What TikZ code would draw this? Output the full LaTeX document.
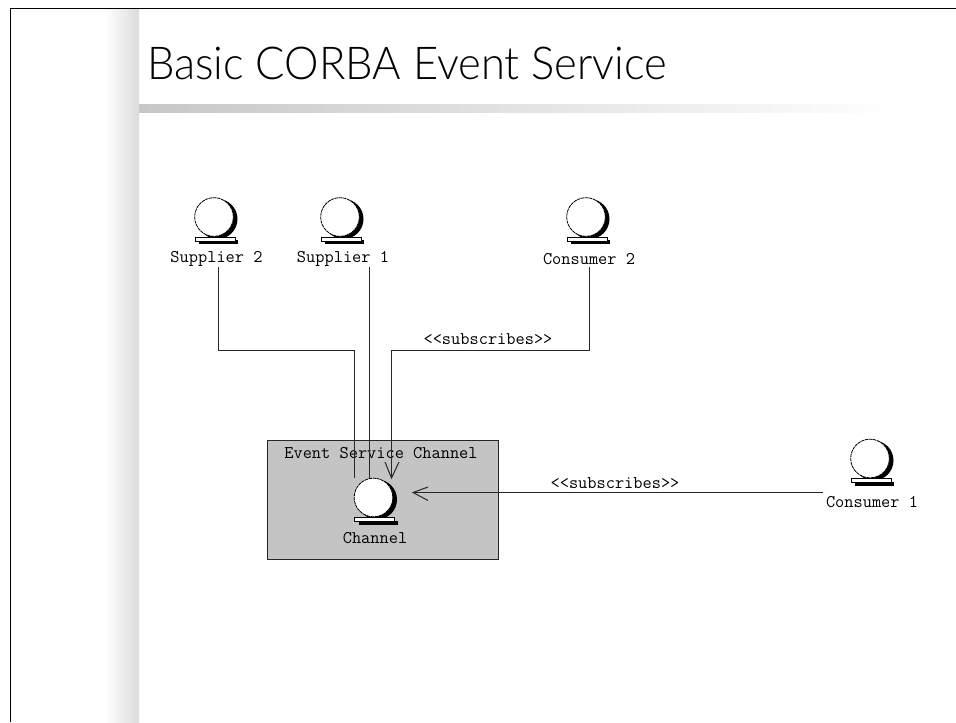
\documentclass[tikz,border=0pt]{standalone}
\usepackage{fontspec}
\newfontfamily\titlefont[FakeStretch=0.96]{Lato Light}
\tikzset{
  x=0.75pt,y=-0.75pt,
  umltext/.style={font=\ttfamily\fontsize{13.4}{14}\selectfont,inner sep=0pt,text=black},
  link/.style={draw=black!85,line width=0.75pt},
  ball/.style={circle,minimum size=29pt,inner sep=0pt,draw=black,fill=white,line width=0.6pt,dash pattern=on 2.5pt off 0.5pt},
}
\newcommand{\actorshape}[3]{% name, cx, cy of ball centre
  \fill[black] (#2+3.5,#3+2) circle[radius=20];
  \fill[black] (#2-15,#3+23) rectangle (#2+24,#3+27);
  \filldraw[fill=white,draw=black,line width=0.5pt] (#2-19,#3+20) rectangle (#2+21,#3+24);
  \node[ball] (#1) at (#2,#3) {};
}
\begin{document}
\begin{tikzpicture}
\useasboundingbox (0,0) rectangle (956,722);
\fill[white] (0,0) rectangle (956,722);
\shade[left color=white,right color=black!14] (104,9) rectangle (139,722);
\shade[left color=black!22,right color=white] (139,104) rectangle (900,112);
\draw[black,line width=0.75pt] (10.5,722) -- (10.5,8.5) -- (956,8.5);
\node[anchor=west,inner sep=0pt,font=\titlefont\fontsize{34}{40}\selectfont] (title) at (147,63) {Basic CORBA Event Service};

\node[draw=black!85,fill=black!23,line width=0.75pt,minimum width=173.25pt,minimum height=89.25pt,inner sep=0pt] (box) at (383,500) {};
\node[umltext] (boxlabel) at (381,453) {Event Service Channel};

\actorshape{s2}{214}{217}
\actorshape{s1}{340}{217}
\actorshape{c2}{586}{217}
\actorshape{ch}{373.5}{497.5}
\actorshape{c1}{870}{458.5}

\node[umltext] (s2l) at (216.5,259) {Supplier 2};
\node[umltext] (s1l) at (343,259) {Supplier 1};
\node[umltext] (c2l) at (589,259) {Consumer 2};
\node[umltext] (chl) at (375,538) {Channel};
\node[umltext] (c1l) at (872,502) {Consumer 1};

\coordinate (p2) at (218.5,267);
\coordinate (p1) at (369.5,267);
\coordinate (p3) at (589.5,267);
\coordinate (ch2) at (354.5,478);
\coordinate (ch1) at (369.5,478);
\coordinate (ch3) at (391.5,478);
\coordinate (ch4) at (413,492.5);
\coordinate (c1e) at (823,492.5);
\draw[link] (p2) -- (218.5,350.5) -- (354.5,350.5) -- (ch2);
\draw[link] (p1) -- (ch1);
\draw[link] (p3) -- (589.5,350.5) -- (391.5,350.5) -- (ch3);
\draw[link] (385,462) -- (ch3) -- (399,462);
\draw[link] (c1e) -- (ch4);
\draw[link] (428,487) -- (ch4) -- (428,500.5);
\node[umltext] (sub1) at (488,339) {{<}{<}subscribes{>}{>}};
\node[umltext] (sub2) at (615,483) {{<}{<}subscribes{>}{>}};
\end{tikzpicture}
\end{document}
